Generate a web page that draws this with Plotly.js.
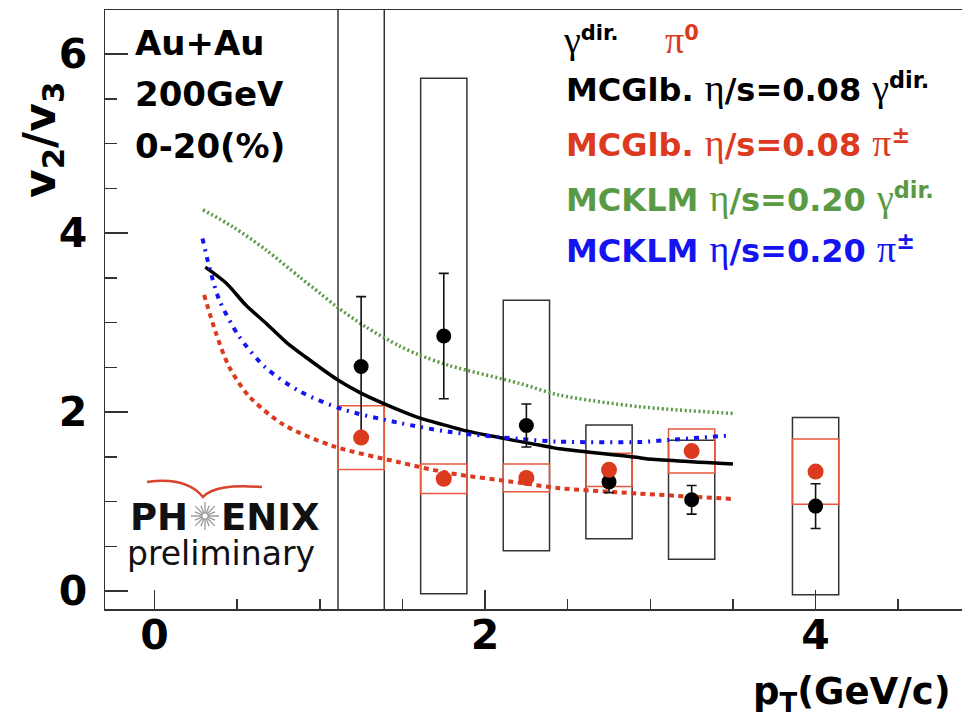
<!DOCTYPE html>
<html>
<head>
<meta charset="utf-8">
<script src="https://cdn.plot.ly/plotly-3.0.1.min.js"></script>
<style>
  html, body { margin: 0; padding: 0; background: #ffffff; }
  #chart { width: 962px; height: 721px; }
</style>
</head>
<body>
<div id="chart"></div>
<script>
// ---- measured points: pT bin centres (GeV/c) ----
const ptBins = [1.25, 1.75, 2.25, 2.75, 3.25, 4.0];

// direct photon v2/v3, statistical and systematic uncertainties
const gammaRatio = [2.51, 2.85, 1.85, 1.22, 1.02, 0.95];
const gammaStat  = [0.78, 0.70, 0.24, 0.12, 0.16, 0.25];
const gammaSys   = [4.20, 2.88, 1.40, 0.635, 0.665, 0.99];

// pi0 v2/v3 and systematic uncertainties
const pi0Ratio = [1.715, 1.255, 1.265, 1.355, 1.565, 1.335];
const pi0Sys   = [0.355, 0.165, 0.155, 0.185, 0.245, 0.365];

// ---- hydrodynamic calculations ----
const glbGammaPt = [0.307, 0.434, 0.555, 0.676, 0.797, 0.918, 1.10, 1.24, 1.38, 1.58, 1.785, 1.886, 2.39, 2.45, 2.935, 2.975, 3.50];
const glbGammaV  = [3.62, 3.44, 3.19, 2.99, 2.78, 2.61, 2.37, 2.22, 2.10, 1.95, 1.84, 1.79, 1.61, 1.59, 1.49, 1.48, 1.42];

const glbPionPt = [0.30, 0.37, 0.45, 0.57, 0.78, 1.08, 1.48, 1.78, 2.21, 2.45, 2.93, 3.49];
const glbPionV  = [3.31, 2.89, 2.51, 2.18, 1.86, 1.62, 1.44, 1.32, 1.21, 1.15, 1.09, 1.03];

const klmGammaPt = [0.293, 0.474, 0.676, 0.877, 1.0, 1.10, 1.28, 1.48, 1.60, 1.785, 2.21, 2.45, 2.935, 3.50];
const klmGammaV  = [4.26, 4.07, 3.81, 3.51, 3.33, 3.18, 2.95, 2.74, 2.64, 2.52, 2.32, 2.19, 2.06, 1.985];

const klmPionPt = [0.29, 0.33, 0.39, 0.51, 0.67, 0.88, 1.14, 1.48, 1.78, 2.21, 2.45, 2.93, 3.12, 3.49];
const klmPionV  = [3.94, 3.63, 3.26, 2.85, 2.50, 2.23, 2.03, 1.88, 1.78, 1.70, 1.67, 1.665, 1.69, 1.74];

// ---- axis ticks ----
const xTickVals = [0, 2, 4];
const xTickText = ['0', '2', '4'];
const yTickVals = [0, 2, 4, 6];
const yTickText = ['0', '2', '4', '6'];

// ---- styling ----
const RED = '#dc3a1f';
const RED_BOX = '#e8583f';
const GREEN = '#5b9a45';
const BLUE = '#1414f0';
const INK = '#333333';
const SANS = "'DejaVu Sans', sans-serif";
const GREEK = "font-family:Liberation Serif;font-weight:normal;font-size:38px";
const BOX_HALF_WIDTH = 0.14;

const W = 962, H = 721;
const M = { l: 105, r: 0, t: 10, b: 112 };
// pixel -> paper helpers for decorations outside the data area
const px = x => (x - M.l) / (W - M.l - M.r);
const py = y => (H - M.b - y) / (H - M.t - M.b);

const curves = [
  { x: glbGammaPt, y: glbGammaV, line: { color: '#000000', width: 3.5, shape: 'spline', smoothing: 0.8 } },
  { x: glbPionPt,  y: glbPionV,  line: { color: RED,   width: 4, dash: '5px,4.5px', shape: 'spline', smoothing: 0.8 } },
  { x: klmGammaPt, y: klmGammaV, line: { color: GREEN, width: 3.5, dash: '2px,2.6px', shape: 'spline', smoothing: 0.8 } },
  { x: klmPionPt,  y: klmPionV,  line: { color: BLUE,  width: 4, dash: '5px,6px,2px,6px', shape: 'spline', smoothing: 0.8 } }
].map(c => Object.assign({ type: 'scatter', mode: 'lines', hoverinfo: 'skip', showlegend: false }, c));

const gammaPoints = {
  type: 'scatter', mode: 'markers', x: ptBins, y: gammaRatio, showlegend: false,
  marker: { color: '#000000', size: 15 },
  error_y: { type: 'data', array: gammaStat, visible: true, color: '#111111', thickness: 1.6, width: 5 }
};
const pi0Points = {
  type: 'scatter', mode: 'markers', x: ptBins, y: pi0Ratio, showlegend: false,
  marker: { color: RED, size: 16 }
};

// systematic uncertainty boxes
const shapes = [];
ptBins.forEach((pt, i) => {
  shapes.push({
    type: 'rect', xref: 'x', yref: 'y', layer: 'below',
    x0: pt - BOX_HALF_WIDTH, x1: pt + BOX_HALF_WIDTH,
    y0: gammaRatio[i] - gammaSys[i], y1: gammaRatio[i] + gammaSys[i],
    line: { color: INK, width: 1.5 }, fillcolor: 'rgba(0,0,0,0)'
  });
});
ptBins.forEach((pt, i) => {
  shapes.push({
    type: 'rect', xref: 'x', yref: 'y', layer: 'below',
    x0: pt - BOX_HALF_WIDTH, x1: pt + BOX_HALF_WIDTH,
    y0: pi0Ratio[i] - pi0Sys[i], y1: pi0Ratio[i] + pi0Sys[i],
    line: { color: RED_BOX, width: 1.5 }, fillcolor: 'rgba(0,0,0,0)'
  });
});

// PHENIX logo: red wing and grey star
shapes.push({
  type: 'path', xref: 'paper', yref: 'paper', layer: 'above',
  path: `M ${px(147)},${py(482)} C ${px(175)},${py(478)} ${px(193)},${py(485)} ${px(203)},${py(497)} ` +
        `C ${px(212)},${py(487)} ${px(232)},${py(485)} ${px(262)},${py(487)}`,
  line: { color: '#d8442c', width: 2.5 }
});
(function () {
  const cx = 205, cy = 516;
  let d = '';
  for (let k = 0; k < 16; k++) {
    const a = k * Math.PI / 8;
    const r0 = 2.5, r1 = (k % 2 === 0) ? 14 : 11;
    d += `M ${px(cx + r0 * Math.cos(a))},${py(cy + r0 * Math.sin(a))} L ${px(cx + r1 * Math.cos(a))},${py(cy + r1 * Math.sin(a))} `;
  }
  shapes.push({ type: 'path', xref: 'paper', yref: 'paper', layer: 'above', path: d, line: { color: '#9a9a9a', width: 1.3 } });
})();

const ann = (text, x, y, opts) => Object.assign({
  xref: 'paper', yref: 'paper', x: px(x), y: py(y), text: text, showarrow: false,
  xanchor: 'left', yanchor: 'middle',
  font: { family: SANS, size: 34, color: '#000000', weight: 'bold' }
}, opts || {});

const g = s => `<span style="${GREEK}">${s}</span>`;

const annotations = [
  // collision system
  ann('Au+Au', 133, 43),
  ann('200GeV', 133, 94),
  ann('0-20(%)', 133, 146),
  // legend block
  ann(`${g('γ')}<sup>dir.</sup>`, 561, 40, { font: { family: SANS, size: 30, color: '#000000', weight: 'bold' } }),
  ann(`${g('π')}<sup>0</sup>`, 663, 40, { font: { family: SANS, size: 30, color: RED, weight: 'bold' } }),
  ann(`MCGlb. ${g('η')}/s=0.08 ${g('γ')}<sup>dir.</sup>`, 564, 88, { font: { family: SANS, size: 32, color: '#000000', weight: 'bold' } }),
  ann(`MCGlb. ${g('η')}/s=0.08 ${g('π')}<sup>±</sup>`, 564, 143, { font: { family: SANS, size: 32, color: RED, weight: 'bold' } }),
  ann(`MCKLM ${g('η')}/s=0.20 ${g('γ')}<sup>dir.</sup>`, 564, 198, { font: { family: SANS, size: 32, color: GREEN, weight: 'bold' } }),
  ann(`MCKLM ${g('η')}/s=0.20 ${g('π')}<sup>±</sup>`, 564, 249, { font: { family: SANS, size: 32, color: BLUE, weight: 'bold' } }),
  // axis titles
  ann('v<sub>2</sub>/v<sub>3</sub>', 42, 140, { xanchor: 'center', textangle: -90, font: { family: SANS, size: 44, color: '#000000', weight: 'bold' } }),
  ann('p<sub>T</sub>(GeV/c)', 953, 694, { xanchor: 'right', font: { family: SANS, size: 37, color: '#000000', weight: 'bold' } }),
  // logo text
  ann('PH', 128, 517, { font: { family: SANS, size: 37, color: '#111111', weight: 'bold' } }),
  ann('ENIX', 219, 517, { font: { family: SANS, size: 37, color: '#111111', weight: 'bold' } }),
  ann('preliminary', 125, 553, { font: { family: SANS, size: 33, color: '#111111' } })
];

const layout = {
  width: W, height: H,
  margin: M,
  paper_bgcolor: '#ffffff', plot_bgcolor: '#ffffff',
  showlegend: false,
  xaxis: {
    range: [-0.3, 4.886], showgrid: false, zeroline: false,
    showline: true, linecolor: INK, linewidth: 1.5, mirror: true,
    tickmode: 'array', tickvals: xTickVals, ticktext: xTickText,
    ticks: 'inside', ticklen: 19, tickwidth: 1.5, tickcolor: INK,
    minor: { ticks: 'inside', ticklen: 10, dtick: 0.5, tickwidth: 1.5, tickcolor: INK, showgrid: false },
    tickfont: { family: SANS, size: 41, color: '#000000', weight: 'bold' },
    ticklabelstandoff: -11
  },
  yaxis: {
    range: [-0.2, 6.493], showgrid: false, zeroline: false,
    showline: true, linecolor: INK, linewidth: 1.5, mirror: false,
    tickmode: 'array', tickvals: yTickVals, ticktext: yTickText,
    ticks: 'inside', ticklen: 23, tickwidth: 1.5, tickcolor: INK,
    minor: { ticks: 'inside', ticklen: 12, dtick: 0.5, tickwidth: 1.5, tickcolor: INK, showgrid: false },
    tickfont: { family: SANS, size: 41, color: '#000000', weight: 'bold' },
    ticklabelstandoff: 8
  },
  shapes: shapes,
  annotations: annotations
};

Plotly.newPlot('chart', curves.concat([gammaPoints, pi0Points]), layout, { displayModeBar: false, staticPlot: true });
</script>
</body>
</html>
